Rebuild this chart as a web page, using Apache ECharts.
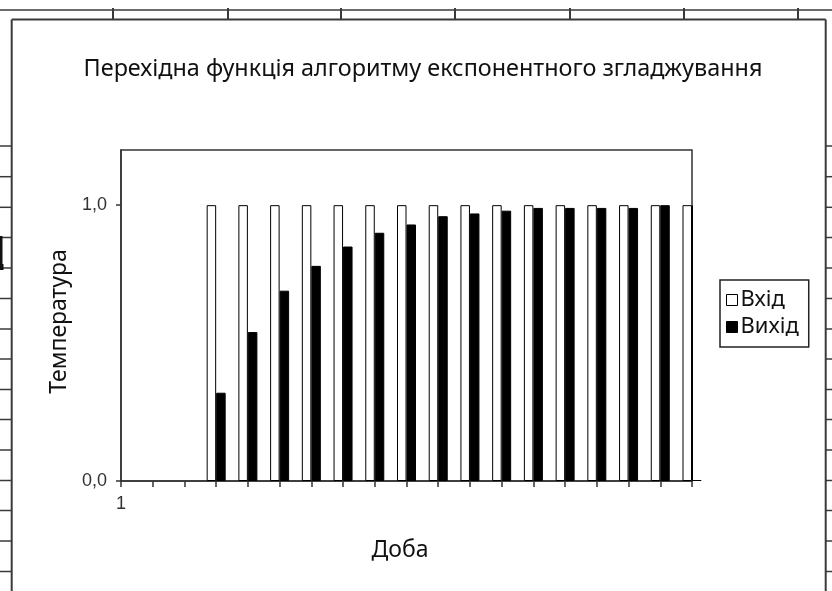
<!DOCTYPE html>
<html>
<head>
<meta charset="utf-8">
<script src="https://cdn.jsdelivr.net/npm/echarts@6/dist/echarts.min.js"></script>
<style>
html,body{margin:0;padding:0;background:#fff;}
#chart{width:832px;height:591px;}
</style>
</head>
<body>
<div id="chart"></div>
<script>
// Data
const days = ['1','2','3','4','5','6','7','8','9','10','11','12','13','14','15','16','17','18','19'];
const inputValues = [0,0,0,1,1,1,1,1,1,1,1,1,1,1,1,1,1,1,1];
const outputValues = [0,0,0,0.32,0.54,0.69,0.78,0.85,0.90,0.93,0.96,0.97,0.98,0.99,0.99,0.99,0.99,1.0,1.0];
const yTickValues = [0, 1];
const titleText = 'Перехідна функція алгоритму експонентного згладжування';
const seriesNames = ['Вхід', 'Вихід'];

const chart = echarts.init(document.getElementById('chart'), null, {renderer: 'canvas'});

// decorative worksheet grid lines behind the chart object
const deco = [];
function addLine(x1, y1, x2, y2, lw) {
  deco.push({type: 'line', silent: true, shape: {x1, y1, x2, y2}, style: {stroke: '#3a3a3a', lineWidth: lw || 1.5}, z: 100});
}
addLine(0, 10, 832, 10);
[113, 228, 341, 455, 570, 684, 798].forEach(x => addLine(x, 8, x, 19.5, 2));
[146, 176.7, 207.3, 237.5, 268, 298.5, 329, 359, 389.5, 419.5, 450, 480.5, 510.5, 541, 571.5].forEach(y => {
  addLine(0, y, 11.7, y);
  addLine(825.7, y, 832, y);
});
// chart object border
addLine(11.7, 19.5, 825.7, 19.5, 2);
addLine(11.7, 19.5, 11.7, 591, 2);
addLine(825.7, 19.5, 825.7, 591, 2);
// selection marker
deco.push({type: 'rect', silent: true, shape: {x: 0, y: 236, width: 2.5, height: 33}, style: {fill: '#111'}, z: 100});
deco.push({type: 'rect', silent: true, shape: {x: 0, y: 264, width: 3.5, height: 6}, style: {fill: '#111'}, z: 100});
// mask: the plot area clips the half-bar beyond its right edge
deco.push({type: 'rect', silent: true, shape: {x: 693, y: 190, width: 14, height: 290}, style: {fill: '#fff'}, z: 90});

function styled(values, fill) {
  return values.map(v => v === 0
    ? {value: v, itemStyle: {borderWidth: 0, color: 'rgba(0,0,0,0)'}}
    : {value: v, itemStyle: {color: fill, borderColor: '#000', borderWidth: 1}});
}

const option = {
  backgroundColor: '#fff',
  animation: false,
  title: {
    text: titleText,
    left: 423,
    textAlign: 'center',
    top: 58,
    padding: 0,
    textStyle: {fontFamily: 'Noto Sans', fontSize: 23.4, fontWeight: 'normal', color: '#111'}
  },
  legend: {
    orient: 'vertical',
    left: 720,
    top: 280,
    padding: [9, 10, 9, 6],
    itemGap: 5,
    itemWidth: 11,
    itemHeight: 11,
    borderColor: '#222',
    borderWidth: 1.5,
    textStyle: {fontFamily: 'Noto Sans', fontSize: 22, color: '#111', padding: [0, 0, 0, -2]},
    data: [
      {name: seriesNames[0], icon: 'rect', itemStyle: {color: '#fff', borderColor: '#000', borderWidth: 1}},
      {name: seriesNames[1], icon: 'rect', itemStyle: {color: '#000', borderColor: '#000', borderWidth: 1}}
    ]
  },
  grid: {
    left: 121, right: 140, top: 150, bottom: 110,
    show: true, borderColor: '#333', borderWidth: 1.5, backgroundColor: '#fff'
  },
  xAxis: {
    type: 'category',
    data: days,
    boundaryGap: false,
    name: 'Доба',
    nameLocation: 'middle',
    nameGap: 58,
    nameTextStyle: {fontFamily: 'Noto Sans', fontSize: 23, color: '#111', padding: [0, 13, 0, 0]},
    axisLine: {lineStyle: {color: '#333', width: 1.5}},
    axisTick: {show: true, interval: 0, length: 6, lineStyle: {color: '#333', width: 1.5}},
    axisLabel: {
      interval: 0,
      margin: 14,
      fontFamily: 'Liberation Sans',
      fontSize: 18,
      color: '#333',
      formatter: (v, i) => i === 0 ? v : ''
    },
    splitLine: {show: false}
  },
  yAxis: {
    type: 'value',
    min: 0,
    max: 1.2,
    name: 'Температура',
    nameLocation: 'middle',
    nameGap: 49,
    nameTextStyle: {fontFamily: 'Noto Sans', fontSize: 23, color: '#111', padding: [0, 12, 0, 0]},
    axisLine: {show: true, lineStyle: {color: '#333', width: 1.5}},
    axisTick: {show: true, length: 5, customValues: yTickValues, lineStyle: {color: '#333', width: 1.5}},
    axisLabel: {
      customValues: yTickValues,
      margin: 14,
      fontFamily: 'Liberation Sans',
      fontSize: 18,
      color: '#333',
      formatter: v => v.toFixed(1).replace('.', ',')
    },
    splitLine: {show: false}
  },
  series: [
    {
      name: seriesNames[0],
      type: 'bar',
      data: styled(inputValues, '#fff'),
      barWidth: 9.5,
      barGap: '0%',
      itemStyle: {color: '#fff', borderColor: '#000', borderWidth: 1}
    },
    {
      name: seriesNames[1],
      type: 'bar',
      data: styled(outputValues, '#000'),
      barWidth: 9.5,
      barGap: '0%',
      itemStyle: {color: '#000', borderColor: '#000', borderWidth: 1}
    }
  ],
  graphic: {elements: deco}
};
chart.setOption(option);
</script>
</body>
</html>
